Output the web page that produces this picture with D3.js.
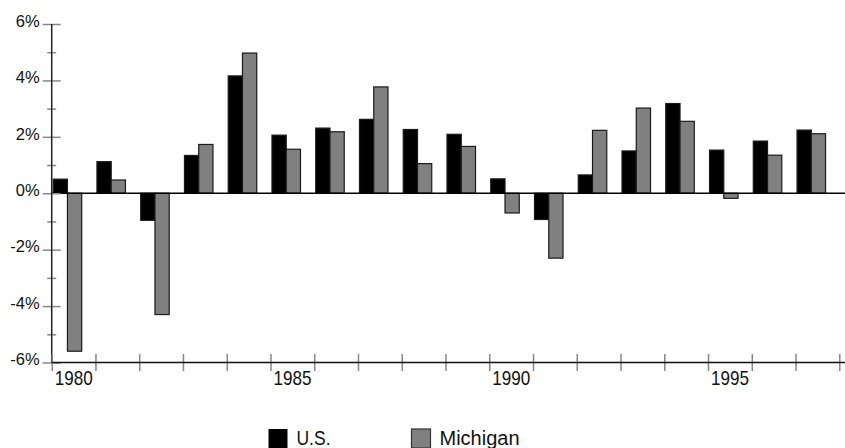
<!DOCTYPE html>
<html>
<head>
<meta charset="utf-8">
<script src="https://cdn.jsdelivr.net/npm/d3@7"></script>
<style>
  body { margin: 0; background: #fff; }
  svg { display: block; }
</style>
</head>
<body>
<div id="chart"></div>
<script>
// annual growth, %
var years = d3.range(1980, 1998);
var usValues = [0.5, 1.12, -0.96, 1.34, 4.16, 2.06, 2.31, 2.62, 2.26, 2.09, 0.51, -0.93, 0.65, 1.5, 3.18, 1.53, 1.85, 2.24];
var michValues = [-5.6, 0.47, -4.3, 1.73, 4.97, 1.56, 2.18, 3.77, 1.05, 1.66, -0.7, -2.3, 2.23, 3.02, 2.55, -0.18, 1.35, 2.11];
var seriesNames = ["U.S.", "Michigan"];
var yMajorTicks = [-6, -4, -2, 0, 2, 4, 6];
var yMinorTicks = [-5, -3, -1, 1, 3, 5];
var xLabelYears = [1980, 1985, 1990, 1995];

var svgWidth = 845, svgHeight = 448;
var plotLeft = 51.7, plotRight = 839.3, plotTop = 24, plotBottom = 362.5;

var svg = d3.select("#chart").append("svg")
    .attr("width", svgWidth)
    .attr("height", svgHeight);

// scales
var xEdge = d3.scaleLinear().domain([1980, 1998]).range([plotLeft, plotRight]);
var xBand = d3.scaleBand().domain(years).range([plotLeft, plotRight]).padding(0);
var xSub = d3.scaleBand().domain(seriesNames).range([1.5, 30]);
var y = d3.scaleLinear().domain([-6, 6]).range([plotBottom, plotTop]);

var colors = {"U.S.": "#000", "Michigan": "#808080"};

var rows = years.map(function(yr, i) {
    return {year: yr, values: [
        {name: "U.S.", v: usValues[i]},
        {name: "Michigan", v: michValues[i]}
    ]};
});

// bars
var groups = svg.append("g").selectAll("g")
    .data(rows)
    .enter().append("g")
    .attr("transform", d => "translate(" + xBand(d.year) + ",0)");

groups.selectAll("rect")
    .data(d => d.values)
    .enter().append("rect")
    .attr("x", d => xSub(d.name))
    .attr("width", xSub.bandwidth())
    .attr("y", d => y(Math.max(0, d.v)))
    .attr("height", d => Math.abs(y(d.v) - y(0)))
    .attr("fill", d => colors[d.name])
    .attr("stroke", "#1a1a1a")
    .attr("stroke-width", 1.2);

// zero line
svg.append("line")
    .attr("x1", plotLeft).attr("x2", svgWidth)
    .attr("y1", y(0)).attr("y2", y(0))
    .attr("stroke", "#000").attr("stroke-width", 1.5);

// y axis (ticks cross the line)
var yAxisG = svg.append("g")
    .attr("transform", "translate(" + plotLeft + ",0)")
    .call(d3.axisLeft(y).tickValues(yMajorTicks).tickFormat(d => d + "%").tickSize(9).tickPadding(3));
yAxisG.select(".domain").remove();
yAxisG.selectAll(".tick line").attr("x1", 9).attr("stroke", "#888").attr("stroke-width", 1.5);
yAxisG.selectAll(".tick text")
    .attr("dy", "0.14em")
    .attr("font-family", "Liberation Sans, Arial, sans-serif")
    .attr("font-size", 16.5).attr("fill", "#111");

var yMinorG = svg.append("g")
    .attr("transform", "translate(" + plotLeft + ",0)")
    .call(d3.axisLeft(y).tickValues(yMinorTicks).tickFormat("").tickSize(4.5));
yMinorG.select(".domain").remove();
yMinorG.selectAll(".tick line").attr("x1", 4.5).attr("stroke", "#888").attr("stroke-width", 1.5);

svg.append("line")
    .attr("x1", plotLeft).attr("x2", plotLeft)
    .attr("y1", plotTop).attr("y2", plotBottom)
    .attr("stroke", "#222").attr("stroke-width", 1.5);

// x axis
var xAxisG = svg.append("g")
    .attr("transform", "translate(0," + plotBottom + ")")
    .call(d3.axisBottom(xEdge).tickValues(d3.range(1980, 1999))
        .tickFormat(d => xLabelYears.indexOf(d) >= 0 ? d : "")
        .tickSize(8.5).tickSizeOuter(0).tickPadding(2));
xAxisG.select(".domain").remove();
xAxisG.selectAll(".tick line").attr("y1", -8.5).attr("stroke", "#888").attr("stroke-width", 1.5);
xAxisG.selectAll(".tick text")
    .attr("text-anchor", "start")
    .attr("x", 2.5)
    .attr("dy", "0.57em")
    .attr("font-family", "Liberation Sans, Arial, sans-serif")
    .attr("font-size", 21).attr("fill", "#111")
    .filter(d => xLabelYears.indexOf(d) >= 0)
    .attr("textLength", 38).attr("lengthAdjust", "spacingAndGlyphs");

svg.append("line")
    .attr("x1", plotLeft).attr("x2", svgWidth)
    .attr("y1", plotBottom).attr("y2", plotBottom)
    .attr("stroke", "#111").attr("stroke-width", 1.5);

// legend
var legendX = d3.scaleOrdinal().domain(seriesNames).range([268.5, 411.5]);
var legendLen = {"U.S.": 34, "Michigan": 80};
var legend = svg.append("g").selectAll("g")
    .data(seriesNames)
    .enter().append("g")
    .attr("transform", d => "translate(" + legendX(d) + ",429)");
legend.append("rect")
    .attr("width", 19).attr("height", 19)
    .attr("fill", d => colors[d])
    .attr("stroke", d => d === "U.S." ? "none" : "#333")
    .attr("stroke-width", 1.2);
legend.append("text")
    .attr("x", 28).attr("y", 16)
    .attr("font-family", "Liberation Sans, Arial, sans-serif")
    .attr("font-size", 20).attr("fill", "#111")
    .attr("textLength", d => legendLen[d]).attr("lengthAdjust", "spacingAndGlyphs")
    .text(d => d);
</script>
</body>
</html>
